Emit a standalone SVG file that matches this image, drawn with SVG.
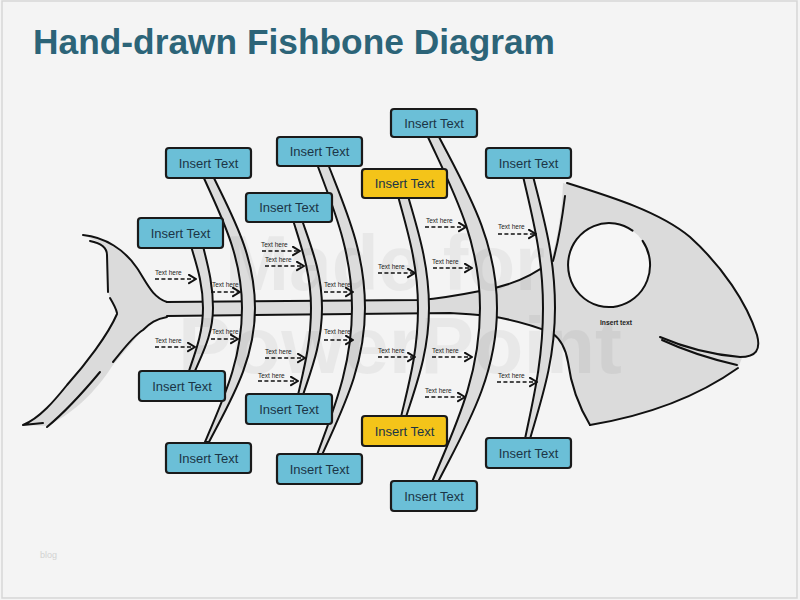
<svg xmlns="http://www.w3.org/2000/svg" width="800" height="600" viewBox="0 0 800 600">
<defs>
<style>
.ol{fill:none;stroke:#111;stroke-width:2;stroke-linecap:round;stroke-linejoin:round}
.gray{fill:#dbdbdb;stroke:none}
.rib{fill:#dcdcdc;stroke:#111;stroke-width:2;stroke-linejoin:round}
.box{stroke:#1a1a1a;stroke-width:2.2;stroke-linejoin:round}
.blue{fill:#6bbfd7}
.yellow{fill:#f4c419}
.bt{font-family:"Liberation Sans",Arial,sans-serif;font-size:13px;fill:#1b3546;text-anchor:middle}
.lt{font-family:"Liberation Sans",Arial,sans-serif;font-size:6.5px;fill:#222}
.arr{fill:none;stroke:#111;stroke-width:1.7;stroke-dasharray:4 2.4;marker-end:url(#ah)}
.wm{font-family:"Liberation Sans",Arial,sans-serif;font-weight:bold;fill:#000;opacity:0.045}
</style>
<marker id="ah" markerWidth="10" markerHeight="12" refX="8" refY="5" orient="auto" markerUnits="userSpaceOnUse">
<path d="M1,0.8 L8,5 L1,9.2" fill="none" stroke="#111" stroke-width="2" stroke-linecap="round" stroke-linejoin="round"/>
</marker>
</defs>
<rect x="0" y="0" width="800" height="600" fill="#f4f4f4"/>
<rect x="2" y="1" width="795" height="597" fill="none" stroke="#d6d6d6" stroke-width="1.5"/>
<text x="33" y="54" font-family="Liberation Sans,Arial,sans-serif" font-weight="bold" font-size="35" fill="#2c6478" textLength="522" lengthAdjust="spacingAndGlyphs">Hand-drawn Fishbone Diagram</text>

<g id="fish">
<path class="gray" d="M83,235 C105,237 125,250 137,268 C147,283 152,297 167,302 L167,316 C155,318 147,325 140,333 C130,345 120,357 113,365 C100,385 80,410 47,426 L23,425 C45,415 55,400 67,385 C85,365 108,335 117,313 L110,298 L108,292 L108,255 C106,246 98,241 83,235 Z"/>
<path class="gray" d="M167,302 L420,300 C445,298 465,294 480,291 C505,287 530,278 550,263 C556,245 562,215 563,183 C610,195 660,210 690,237 C722,266 748,305 757,335 C761,350 756,357 742,358 L738,368 C700,395 650,415 590,425 C578,405 571,385 568,362 C566,348 560,338 552,333 C530,325 505,317 480,315 L450,312 L167,316 Z"/>
<ellipse cx="609" cy="265" rx="41" ry="42" fill="#f6f6f6"/>
<path class="ol" d="M642.6,240.9 A41 42 0 1 1 632.5,230.6"/>
<path class="ol" d="M83,235 C105,237 125,250 137,268 C147,283 152,297 167,302"/>
<path class="ol" d="M90,241 C100,243 107,247 107,255 L108,292"/>
<path class="ol" d="M110,298 C113,303 116,308 117,313"/>
<path class="ol" d="M117,314 C108,335 85,365 67,385 C55,400 40,418 23,425 L43,423"/>
<path class="ol" d="M47,427 C65,412 85,390 100,372"/>
<path class="ol" d="M113,362 C123,350 132,337 143,330 C150,323 156,319 167,317"/>
<path class="ol" d="M167,302 L420,300 C445,298 465,294 480,291 C505,287 530,278 550,262"/>
<path class="ol" d="M167,316 L450,313 C470,314 480,315 490,316 C515,320 535,326 552,333 C562,340 566,350 568,362 C571,385 578,405 590,425"/>
<path class="ol" d="M565,196 C562,220 558,243 553,261"/>
<path class="ol" d="M567,183 C612,197 660,212 690,237 C722,266 747,303 757,335 C761,350 756,357 740,357 C715,355 688,349 660,337"/>
<path class="ol" d="M662,340 C690,353 715,360 737,365"/>
<path class="ol" d="M738,368 C700,395 650,415 590,425"/>
</g>

<g id="connectors">
<path class="rib" d="M203,176 C220.6,215.6 242,255.2 242,308 C242,361.6 221.7,401.8 205,442 L209,442 C229.7,401.8 255,361.6 255,308 C255,255.2 231.9,215.6 213,176 Z"/>
<path class="rib" d="M191,246 C196.4,264.6 203,283.2 203,308 C203,333.2 195.3,352.1 189,371 L195,371 C203.1,352.1 213,333.2 213,308 C213,283.2 207.5,264.6 203,246 Z"/>
<path class="rib" d="M293,220 C301.1,246.4 311,272.8 311,308 C311,342.8 303.9,368.9 298,395 L303,395 C311.6,368.9 322,342.8 322,308 C322,272.8 311,246.4 302,220 Z"/>
<path class="rib" d="M317,164 C332.8,207.2 352,250.4 352,308 C352,366.8 332.8,410.9 317,455 L322,455 C341.4,410.9 365,366.8 365,308 C365,250.4 344.7,207.2 328,164 Z"/>
<path class="rib" d="M398,196 C407,229.6 418,263.2 418,308 C418,351.6 408.7,384.3 401,417 L406,417 C416.4,384.3 429,351.6 429,308 C429,263.2 417.5,229.6 408,196 Z"/>
<path class="rib" d="M427,135 C450.9,186.9 480,238.8 480,308 C480,377.6 453.6,429.8 432,482 L438,482 C464.6,429.8 497,377.6 497,308 C497,238.8 464.7,186.9 438,135 Z"/>
<path class="rib" d="M523,176 C532,215.6 543,255.2 543,308 C543,360.4 533.1,399.7 525,439 L530,439 C541.3,399.7 555,360.4 555,308 C555,255.2 542.9,215.6 533,176 Z"/>
</g>

<g id="watermark">
<text class="wm" x="225" y="290" font-size="78" textLength="320" lengthAdjust="spacingAndGlyphs">Made for</text>
<text class="wm" x="178" y="373" font-size="80" textLength="444" lengthAdjust="spacingAndGlyphs">PowerPoint</text>
</g>

<g id="cause-arrows">
<path class="arr" d="M155,279 H196"/><text class="lt" x="155" y="275">Text here</text>
<path class="arr" d="M211,292 H240"/><text class="lt" x="212" y="287">Text here</text>
<path class="arr" d="M262,251 H300"/><text class="lt" x="261" y="247">Text here</text>
<path class="arr" d="M265,266 H304"/><text class="lt" x="265" y="262">Text here</text>
<path class="arr" d="M324,292 H353"/><text class="lt" x="324" y="287">Text here</text>
<path class="arr" d="M425,227 H466"/><text class="lt" x="426" y="223">Text here</text>
<path class="arr" d="M498,234 H536"/><text class="lt" x="498" y="229">Text here</text>
<path class="arr" d="M378,273 H415"/><text class="lt" x="378" y="269">Text here</text>
<path class="arr" d="M433,268 H472"/><text class="lt" x="432" y="264">Text here</text>
<path class="arr" d="M155,347 H195"/><text class="lt" x="155" y="343">Text here</text>
<path class="arr" d="M211,339 H238"/><text class="lt" x="212" y="334">Text here</text>
<path class="arr" d="M265,358 H305"/><text class="lt" x="265" y="354">Text here</text>
<path class="arr" d="M258,381 H298"/><text class="lt" x="258" y="378">Text here</text>
<path class="arr" d="M324,340 H353"/><text class="lt" x="324" y="334">Text here</text>
<path class="arr" d="M378,357 H415"/><text class="lt" x="378" y="353">Text here</text>
<path class="arr" d="M432,357 H472"/><text class="lt" x="432" y="353">Text here</text>
<path class="arr" d="M425,397 H465"/><text class="lt" x="425" y="393">Text here</text>
<path class="arr" d="M497,382 H537"/><text class="lt" x="498" y="378">Text here</text>
</g>

<g id="box-top-1"><rect class="box blue" x="166" y="148" width="85" height="30" rx="3"/><text class="bt" x="208.5" y="167.5">Insert Text</text></g>
<g id="box-top-2"><rect class="box blue" x="277" y="137" width="85" height="29" rx="3"/><text class="bt" x="319.5" y="156">Insert Text</text></g>
<g id="box-top-3"><rect class="box blue" x="391" y="109" width="86" height="28" rx="3"/><text class="bt" x="434" y="127.5">Insert Text</text></g>
<g id="box-top-4"><rect class="box blue" x="486" y="148" width="85" height="30" rx="3"/><text class="bt" x="528.5" y="167.5">Insert Text</text></g>
<g id="box-top-5"><rect class="box blue" x="138" y="218" width="85" height="30" rx="3"/><text class="bt" x="180.5" y="237.5">Insert Text</text></g>
<g id="box-top-6"><rect class="box blue" x="246" y="193" width="86" height="29" rx="3"/><text class="bt" x="289" y="212">Insert Text</text></g>
<g id="box-top-7"><rect class="box yellow" x="362" y="169" width="85" height="29" rx="3"/><text class="bt" x="404.5" y="188">Insert Text</text></g>
<g id="box-bottom-1"><rect class="box blue" x="139" y="371" width="86" height="30" rx="3"/><text class="bt" x="182" y="390.5">Insert Text</text></g>
<g id="box-bottom-2"><rect class="box blue" x="166" y="443" width="85" height="30" rx="3"/><text class="bt" x="208.5" y="462.5">Insert Text</text></g>
<g id="box-bottom-3"><rect class="box blue" x="246" y="394" width="86" height="30" rx="3"/><text class="bt" x="289" y="413.5">Insert Text</text></g>
<g id="box-bottom-4"><rect class="box yellow" x="362" y="416" width="85" height="30" rx="3"/><text class="bt" x="404.5" y="435.5">Insert Text</text></g>
<g id="box-bottom-5"><rect class="box blue" x="277" y="454" width="85" height="30" rx="3"/><text class="bt" x="319.5" y="473.5">Insert Text</text></g>
<g id="box-bottom-6"><rect class="box blue" x="391" y="481" width="86" height="30" rx="3"/><text class="bt" x="434" y="500.5">Insert Text</text></g>
<g id="box-bottom-7"><rect class="box blue" x="486" y="438" width="85" height="30" rx="3"/><text class="bt" x="528.5" y="457.5">Insert Text</text></g>

<g id="head-label"><text x="616" y="324.5" font-family="Liberation Sans,Arial,sans-serif" font-weight="bold" font-size="6.7" fill="#222" text-anchor="middle">Insert text</text></g>
<text x="40" y="558" font-family="Liberation Sans,Arial,sans-serif" font-size="9" fill="#d2d2d2">blog</text>
</svg>
